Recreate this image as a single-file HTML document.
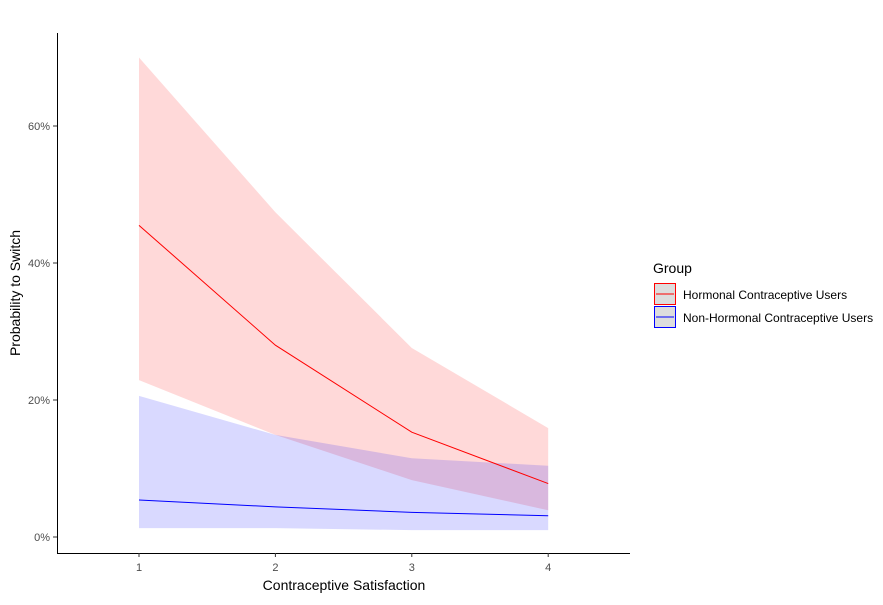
<!DOCTYPE html>
<html><head><meta charset="utf-8"><style>
body{margin:0;background:#fff;font-family:"Liberation Sans",Arial,sans-serif;}
</style></head><body>
<svg id="chart" width="883" height="600" xmlns="http://www.w3.org/2000/svg" font-family="Liberation Sans, Arial, sans-serif">
<g id="bands"></g>
<g id="lines"></g>
<line x1="57.5" y1="33" x2="57.5" y2="553" stroke="#000" stroke-width="1"/>
<line x1="57" y1="553.5" x2="630" y2="553.5" stroke="#000" stroke-width="1"/>
<g id="yticks"></g>
<g id="xticks"></g>
<text x="344" y="590" font-size="14" text-anchor="middle">Contraceptive Satisfaction</text>
<text transform="translate(20,293) rotate(-90)" font-size="14" text-anchor="middle">Probability to Switch</text>
<g>
<text x="653" y="273" font-size="14">Group</text>
<g>
<rect x="654.5" y="283.5" width="21" height="21" fill="#ddd" stroke="#f00"/>
<line x1="656" y1="294" x2="674" y2="294" stroke="#f00"/>
<text x="683" y="299" font-size="12">Hormonal Contraceptive Users</text></g>
<g>
<rect x="654.5" y="306.5" width="21" height="21" fill="#ddd" stroke="#00f"/>
<line x1="656" y1="317" x2="674" y2="317" stroke="#00f"/>
<text x="683" y="322" font-size="12">Non-Hormonal Contraceptive Users</text></g>
</g>
</svg>
<script>
const categories=[1,2,3,4];
const hormonalMean=[45.5,28.0,15.3,7.8];
const hormonalUpper=[70.0,47.4,27.6,15.9];
const hormonalLower=[22.9,14.9,8.3,3.9];
const nonHormonalMean=[5.4,4.4,3.6,3.1];
const nonHormonalUpper=[20.6,14.9,11.5,10.4];
const nonHormonalLower=[1.3,1.3,1.0,1.0];
const yTicks=[0,20,40,60];
const yTickLabels=["0%","20%","40%","60%"];
const NS="http://www.w3.org/2000/svg";
function xs(v){return 139+(v-1)*136.4;}
function ys(v){return 537-v*6.85;}
function mk(tag,attrs,parent){const e=document.createElementNS(NS,tag);for(const k in attrs)e.setAttribute(k,attrs[k]);parent.appendChild(e);return e;}
const bands=document.getElementById('bands'),lines=document.getElementById('lines');
function band(up,lo,color,name){
 let d=categories.map((c,i)=>(i?'L':'M')+xs(c)+','+ys(up[i])).join('');
 for(let i=categories.length-1;i>=0;i--)d+='L'+xs(categories[i])+','+ys(lo[i]);
 const p=mk('path',{d:d+'Z',fill:color,'fill-opacity':0.15},bands);
 
 
}
function line(m,color,name){
 const p=mk('polyline',{points:categories.map((c,i)=>xs(c)+','+ys(m[i])).join(' '),fill:'none',stroke:color,'stroke-width':1},lines);
 
 
}
band(hormonalUpper,hormonalLower,'#ff0000','hormonal-band');
band(nonHormonalUpper,nonHormonalLower,'#0000ff','non-hormonal-band');
line(hormonalMean,'#ff0000','hormonal-line');
line(nonHormonalMean,'#0000ff','non-hormonal-line');
const yt=document.getElementById('yticks');
yTicks.forEach((v,i)=>{
 const l=mk('line',{x1:53,x2:57,y1:ys(v),y2:ys(v),stroke:'#333'},yt);
 
 
 const t=mk('text',{x:50,y:ys(v)+4,'font-size':11,fill:'#4d4d4d','text-anchor':'end'},yt);
 t.textContent=yTickLabels[i];
 
 
});
const xt=document.getElementById('xticks');
categories.forEach(c=>{
 const l=mk('line',{x1:xs(c),x2:xs(c),y1:553,y2:557,stroke:'#333'},xt);
 
 
 const t=mk('text',{x:xs(c),y:571,'font-size':11,fill:'#4d4d4d','text-anchor':'middle'},xt);
 t.textContent=c;
 
 
});
</script>
</body></html>
